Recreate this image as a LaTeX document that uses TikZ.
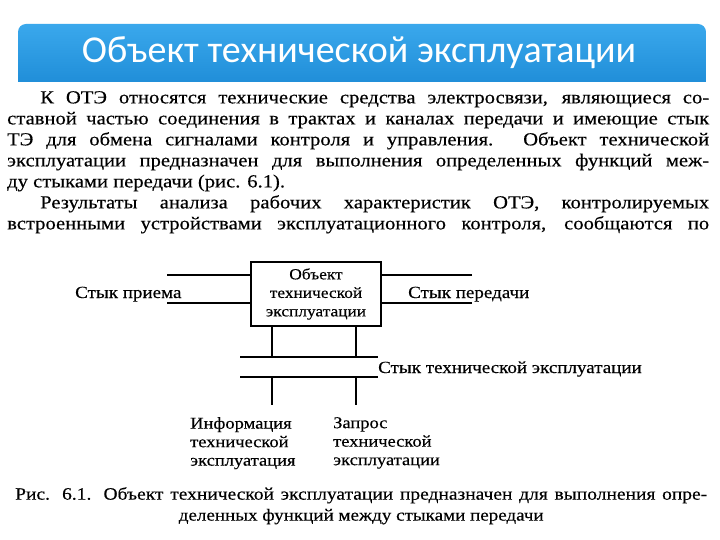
\documentclass[tikz,border=0pt]{standalone}
\usepackage{fontspec}
\setmainfont{Liberation Serif}[FakeStretch=1.12,FakeBold=0.3]
\newfontfamily\titlefont{Carlito}
\usetikzlibrary{positioning}
\definecolor{barTop}{HTML}{3AA8EC}
\definecolor{barBot}{HTML}{1A88D4}
\tikzset{
  objbox/.style={draw,line width=1.1pt,minimum width=130pt,minimum height=64pt,align=center,inner sep=0pt,font=\fontsize{15.5}{18.5}\selectfont},
  lbl/.style={inner sep=0pt,font=\fontsize{17}{19}\selectfont},
  lbls/.style={inner sep=0pt,align=left,font=\fontsize{16.5}{18.5}\selectfont},
  wire/.style={line width=1.1pt},
  bodytext/.style={inner sep=0pt,text width=702pt,align=justify,font=\fontsize{18.4}{21}\selectfont},
  captext/.style={inner sep=0pt,text width=692pt,align=justify,font=\fontsize{17.4}{21}\selectfont},
}

\begin{document}
\begin{tikzpicture}[x=1pt,y=-1pt]
\useasboundingbox (0,0) rectangle (720,540);
\fill[white] (0,0) rectangle (720,540);
% title bar
\begin{scope}
  \clip (18,24) rectangle (706,82);
  \shade[top color=barTop,bottom color=barBot,rounded corners=8pt] (18,24) rectangle (706,96);
\end{scope}
\node[text=white,font=\titlefont\fontsize{38}{44}\selectfont] (title) at (359,53) {Объект технической эксплуатации};

% text above the figure
\node[bodytext,anchor=north west] (para) at (7,91) {%
\hspace*{33pt}К ОТЭ относятся технические средства электросвязи, являющиеся со-\linebreak
ставной частью соединения в трактах и каналах передачи и имеющие стык\linebreak
ТЭ для обмена сигналами контроля и управления. Объект технической\linebreak
эксплуатации предназначен для выполнения определенных функций меж-\linebreak
ду стыками передачи (рис. 6.1).\par
\hspace*{33pt}Результаты анализа рабочих характеристик ОТЭ, контролируемых\linebreak
встроенными устройствами эксплуатационного контроля, сообщаются по\parfillskip=0pt\par};

% figure
\node[objbox] (obj) at (316,294) {Объект\\технической\\эксплуатации};

\coordinate (rxTop) at (167,275);
\coordinate (rxBot) at (167,303);
\coordinate (txTop) at (472,275);
\coordinate (txBot) at (472,303);
\draw[wire] (rxTop) -- (rxTop -| obj.west);
\draw[wire] (rxBot) -- (rxBot -| obj.west);
\draw[wire] (txTop) -- (txTop -| obj.east);
\draw[wire] (txBot) -- (txBot -| obj.east);
\node[lbl,anchor=base west] (rxlbl) at (75,298) {Стык приема};
\node[lbl,anchor=base west] (txlbl) at (408,298) {Стык передачи};

\coordinate (busA) at (240,357);
\coordinate (busB) at (378,357);
\coordinate (busC) at (240,377);
\coordinate (busD) at (378,377);
\draw[wire] (busA) -- (busB);
\draw[wire] (busC) -- (busD);
\node[lbl,anchor=base west] (buslbl) at (378,373) {Стык технической эксплуатации};

\coordinate (upL) at (272,357);
\coordinate (upR) at (356,357);
\draw[wire] (upL |- obj.south) -- (upL);
\draw[wire] (upR |- obj.south) -- (upR);
\coordinate (dnL) at (272,405);
\coordinate (dnR) at (356,405);
\draw[wire] (dnL |- busC) -- (dnL);
\draw[wire] (dnR |- busC) -- (dnR);

\node[lbls,anchor=north west] (info) at (190,417) {Информация\\технической\\эксплуатация};
\node[lbls,anchor=north west] (req) at (333,417) {Запрос\\технической\\эксплуатации};

% caption
\node[captext,anchor=north west] (cap1) at (15,487) {Рис. 6.1. Объект технической эксплуатации предназначен для выполнения опре-\parfillskip=0pt\par};
\node[lbl,below=5pt of cap1] (cap2) {деленных функций между стыками передачи};
\end{tikzpicture}
\end{document}
